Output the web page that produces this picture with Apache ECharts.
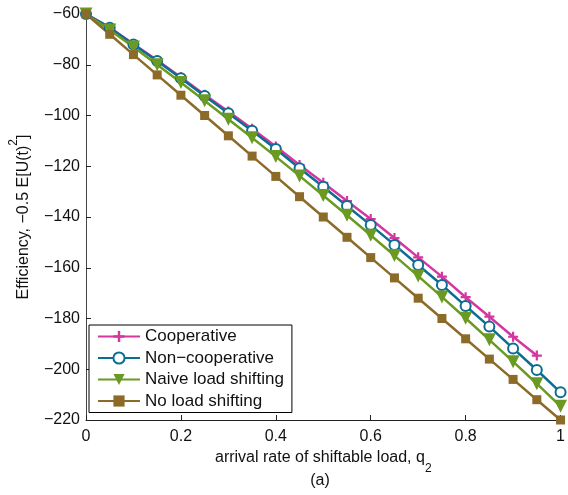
<!DOCTYPE html>
<html><head><meta charset="utf-8">
<script src="https://cdn.jsdelivr.net/npm/echarts@6/dist/echarts.min.js"></script>
<style>html,body{margin:0;padding:0;background:#fff}#c{width:568px;height:495px}</style>
</head><body><div id="c"></div>
<script>
const xValues = [0,0.05,0.1,0.15,0.2,0.25,0.3,0.35,0.4,0.45,0.5,0.55,0.6,0.65,0.7,0.75,0.8,0.85,0.9,0.95,1];
const cooperative = [-60,-65.3,-71.8,-78.2,-84.9,-91.8,-98.4,-105.2,-112.2,-119.5,-126.5,-133.7,-140.8,-148.3,-155.9,-163.5,-171.6,-179.3,-187.2,-194.6];
const nonCooperative = [-60,-65.4,-72,-78.5,-85.3,-92.3,-99.1,-106,-113.2,-120.8,-128.1,-135.7,-143.2,-151,-158.9,-166.8,-175.1,-183.2,-191.8,-200.3,-209.1];
const naiveShifting = [-60,-66.3,-73,-80,-87,-94.2,-101.5,-108.8,-116.2,-123.8,-131.5,-139.3,-147.2,-155.2,-163.3,-171.5,-179.9,-188.4,-197,-205.7,-214.6];
const noShifting = [-60,-68,-76,-84,-92,-100,-108,-116,-124,-132,-140,-148,-156,-164,-172,-180,-188,-196,-204,-212,-220];
const seriesNames = ['Cooperative','Non\u2212cooperative','Naive load shifting','No load shifting'];
const xTicks = ['0','0.2','0.4','0.6','0.8','1'];

const colors = ['#d4379f','#0c6d93','#6b9a22','#8c6a28'];
const font = '"Liberation Sans", Arial, Helvetica, sans-serif';
const pair = (arr) => arr.map((v,i) => [xValues[i], v]);
const plus = 'path://M-0.22,-1h0.44v0.78h0.78v0.44h-0.78v0.78h-0.44v-0.78h-0.78v-0.44h0.78z';
const tri = 'path://M-1,-0.9L1,-0.9L0,0.9z';

const chart = echarts.init(document.getElementById('c'), null, {renderer:'canvas'});
chart.setOption({
  animation:false,
  backgroundColor:'#fff',
  grid:{left:82,right:6,top:14,bottom:75},
  graphic:[{type:'text',x:320,y:481,style:{text:'(a)',font:'16px '+font,fill:'#111',align:'center',verticalAlign:'middle'}}],
  legend:{
    orient:'vertical',left:89,top:325,
    padding:[3,8,3,8],itemGap:4.5,itemWidth:42,itemHeight:14,
    borderColor:'#000',borderWidth:1,backgroundColor:'#fff',
    textStyle:{fontFamily:font,fontSize:17,color:'#111'},
    data:seriesNames
  },
  xAxis:{
    type:'value',min:0,max:1,interval:0.2,
    name:'arrival rate of shiftable load, q{sub|2}',
    nameLocation:'middle',nameGap:24,
    nameTextStyle:{fontFamily:font,fontSize:16,color:'#111',verticalAlign:'top',
      rich:{sub:{fontFamily:font,fontSize:12,color:'#111',verticalAlign:'bottom',padding:[0,0,-9,0]}}},
    axisLine:{lineStyle:{color:'#222',width:1}},
    axisTick:{inside:true,length:5,lineStyle:{color:'#222'}},
    axisLabel:{fontFamily:font,fontSize:16,color:'#111',margin:9,
      formatter:(v)=>xTicks[Math.round(v/0.2)]},
    splitLine:{show:false}
  },
  yAxis:{
    type:'value',min:-220,max:-60,interval:20,
    name:'Efficiency, \u22120.5 E[U(t){sup|2}]',
    nameLocation:'middle',nameGap:54,nameRotate:90,
    nameTextStyle:{fontFamily:font,fontSize:16,color:'#111',
      rich:{sup:{fontFamily:font,fontSize:12,color:'#111',verticalAlign:'top',padding:[-8,0,0,0]}}},
    axisLine:{show:true,lineStyle:{color:'#444',width:1}},
    axisTick:{show:true,inside:true,length:5,lineStyle:{color:'#222'}},
    axisLabel:{fontFamily:font,fontSize:16,color:'#111',margin:6,
      formatter:(v)=>String(v).replace('-','\u2212')},
    splitLine:{show:false}
  },
  series:[
    {name:seriesNames[0],type:'line',data:pair(cooperative),color:colors[0],
     lineStyle:{width:2.5},symbol:plus,symbolSize:10,itemStyle:{color:colors[0]}},
    {name:seriesNames[1],type:'line',data:pair(nonCooperative),color:colors[1],
     lineStyle:{width:2.5},symbol:'emptyCircle',symbolSize:10,itemStyle:{color:colors[1],borderWidth:2.2}},
    {name:seriesNames[2],type:'line',data:pair(naiveShifting),color:colors[2],
     lineStyle:{width:2.5},symbol:tri,symbolSize:13,itemStyle:{color:colors[2]}},
    {name:seriesNames[3],type:'line',data:pair(noShifting),color:colors[3],
     lineStyle:{width:2.5},symbol:'rect',symbolSize:9,itemStyle:{color:colors[3]}}
  ]
});
</script></body></html>
